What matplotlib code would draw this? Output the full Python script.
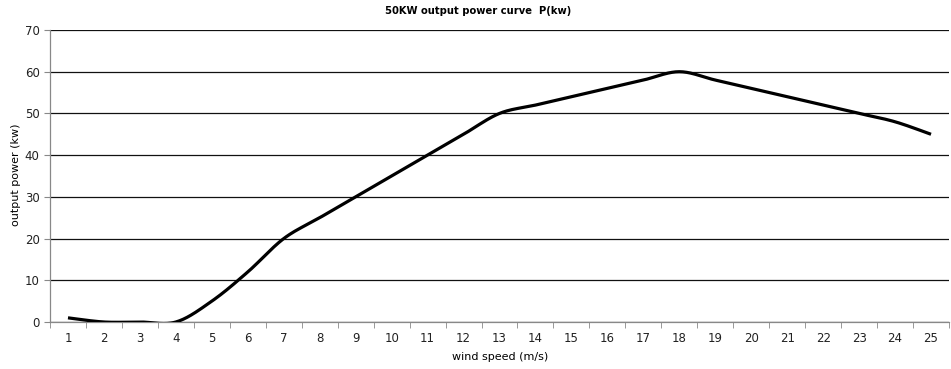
import numpy as np
import matplotlib
matplotlib.use("Agg")
import matplotlib.pyplot as plt

wind_speed = list(range(1, 26))
power_kw = [1, 0, 0, 0, 5, 12, 20, 25, 30, 35, 40, 45, 50, 52, 54, 56, 58, 60,
            58, 56, 54, 52, 50, 48, 45]
y_ticks = [0, 10, 20, 30, 40, 50, 60, 70]


def smooth(xs, ys, steps=30):
    # Excel-style smoothed line: Bezier segments with Catmull-Rom control points
    xs = np.asarray(xs, float)
    ys = np.asarray(ys, float)
    n = len(xs)
    out_x, out_y = [], []
    t = np.linspace(0, 1, steps)
    for i in range(n - 1):
        p0 = np.array([xs[max(i - 1, 0)], ys[max(i - 1, 0)]])
        p1 = np.array([xs[i], ys[i]])
        p2 = np.array([xs[i + 1], ys[i + 1]])
        p3 = np.array([xs[min(i + 2, n - 1)], ys[min(i + 2, n - 1)]])
        c1 = p1 + (p2 - p0) / 6
        c2 = p2 - (p3 - p1) / 6
        pts = (((1 - t) ** 3)[:, None] * p1 + (3 * (1 - t) ** 2 * t)[:, None] * c1
               + (3 * (1 - t) * t ** 2)[:, None] * c2 + (t ** 3)[:, None] * p2)
        out_x.extend(pts[:, 0])
        out_y.extend(pts[:, 1])
    return out_x, out_y


fig = plt.figure(figsize=(9.51, 3.69), dpi=100)
ax = fig.add_axes([50 / 951, 47 / 369, 899 / 951, 292 / 369])

sx, sy = smooth(wind_speed, power_kw)
ax.plot(sx, sy, color="black", linewidth=2.3, solid_capstyle="butt", zorder=3)

ax.set_xlim(0.5, 25.5)
ax.set_ylim(0, 70)
ax.set_yticks(y_ticks)
ax.yaxis.grid(True, color="#111111", linewidth=0.9)
ax.set_axisbelow(True)

ax.set_xticks(wind_speed)
ax.set_xticklabels([str(v) for v in wind_speed])
ax.set_xticks(np.arange(0.5, 26, 1), minor=True)
ax.tick_params(axis="x", which="major", length=0, labelsize=8.5, pad=7,
               colors="#222222")
ax.tick_params(axis="x", which="minor", length=4, color="#888888")
ax.tick_params(axis="y", length=4, labelsize=8.5, color="#888888",
               labelcolor="#222222")

for side in ["top", "right"]:
    ax.spines[side].set_visible(False)
for side in ["left", "bottom"]:
    ax.spines[side].set_color("#888888")
    ax.spines[side].set_linewidth(0.9)

fig.text(478 / 951, 1 - 11 / 369, "50KW output power curve  P(kw)",
         ha="center", va="center", fontsize=7.2, fontweight="bold")
fig.text(16 / 951, 1 - 175 / 369, "output power (kw)", rotation=90,
         ha="center", va="center", fontsize=8)
fig.text(500 / 951, 1 - 357 / 369, "wind speed (m/s)",
         ha="center", va="center", fontsize=8)

fig.savefig("out.png", dpi=100)
